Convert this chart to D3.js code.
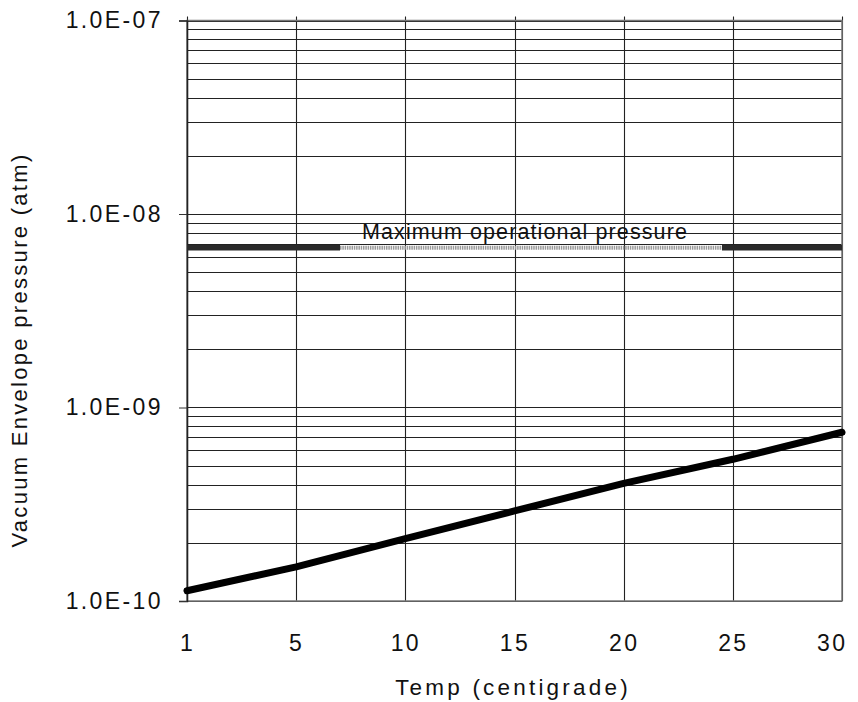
<!DOCTYPE html>
<html>
<head>
<meta charset="utf-8">
<script src="https://cdn.jsdelivr.net/npm/d3@7"></script>
<style>
  body { margin: 0; background: #fff; }
  text { font-family: Arial, "Liberation Sans", Helvetica, sans-serif; fill: #111; }
</style>
</head>
<body>
<svg id="chart" width="858" height="702"></svg>
<script>
// Envelope pressure against temperature, log scale
const temps = [1, 5, 10, 15, 20, 25, 30];
const pressure = [1.13e-10, 1.50e-10, 2.10e-10, 2.92e-10, 4.05e-10, 5.40e-10, 7.45e-10];
const maxPressure = 6.7e-9;
const maxLabel = "Maximum operational pressure";
const yDomain = [1e-10, 1e-7];
const yTickValues = [1e-10, 1e-9, 1e-8, 1e-7];
const yTickLabels = ["1.0E-10", "1.0E-09", "1.0E-08", "1.0E-07"];
const xTitle = "Temp (centigrade)";
const yTitle = "Vacuum Envelope pressure (atm)";

const W = 858, H = 702;
const plot = { left: 187, right: 842, top: 20.5, bottom: 601 };
const font = "Arial, 'Liberation Sans', Helvetica, sans-serif";

const svg = d3.select("#chart");

const x = d3.scalePoint().domain(temps).range([plot.left, plot.right]);
const y = d3.scaleLog().domain(yDomain).range([plot.bottom, plot.top]);

// horizontal grid: every 1..9 step inside each decade
svg.append("g")
  .selectAll("line")
  .data(y.ticks())
  .join("line")
  .attr("x1", plot.left).attr("x2", plot.right)
  .attr("y1", d => Math.round(y(d)) + 0.5).attr("y2", d => Math.round(y(d)) + 0.5)
  .attr("stroke", "#222").attr("stroke-width", 1.1);

// vertical grid at each temperature
svg.append("g")
  .selectAll("line")
  .data(temps)
  .join("line")
  .attr("x1", d => Math.round(x(d)) + 0.5).attr("x2", d => Math.round(x(d)) + 0.5)
  .attr("y1", plot.top - 4).attr("y2", plot.bottom)
  .attr("stroke", "#222").attr("stroke-width", 1.1);

// frame: top/right/bottom lighter, left solid
svg.append("rect")
  .attr("x", plot.left).attr("y", plot.top)
  .attr("width", plot.right - plot.left).attr("height", plot.bottom - plot.top)
  .attr("fill", "none").attr("stroke", "#777").attr("stroke-width", 1.5);

// y axis
const yAxis = svg.append("g")
  .attr("transform", `translate(${plot.left},0)`)
  .call(d3.axisLeft(y)
    .tickValues(yTickValues)
    .tickFormat((d, i) => yTickLabels[i])
    .tickSize(8)
    .tickPadding(16));
yAxis.select(".domain").attr("stroke", "#222").attr("stroke-width", 1.5);
yAxis.selectAll(".tick line").attr("stroke", "#333");
yAxis.selectAll(".tick text")
  .attr("font-size", 23).attr("letter-spacing", 2.4).attr("fill", "#111")
  .attr("font-family", font);

// x axis
const xAxis = svg.append("g")
  .attr("transform", `translate(0,${plot.bottom})`)
  .call(d3.axisBottom(x).tickSize(0).tickPadding(34));
xAxis.select(".domain").remove();
xAxis.selectAll(".tick text")
  .attr("font-size", 23).attr("letter-spacing", 2.4).attr("fill", "#111")
  .attr("font-family", font);
// the last label is pulled inside the page edge
xAxis.selectAll(".tick text")
  .filter(d => d === temps[temps.length - 1])
  .attr("text-anchor", "end").attr("x", 5);

// threshold line with its label
const yMax = y(maxPressure);
const label = svg.append("text")
  .attr("x", 525)
  .attr("y", yMax - 9)
  .attr("text-anchor", "middle")
  .attr("font-size", 21.5)
  .attr("letter-spacing", 1.1)
  .text(maxLabel);
const bb = label.node().getBBox();
const gapL = bb.x - 22, gapR = bb.x + bb.width + 34;

svg.append("line")
  .attr("x1", gapL).attr("x2", gapR)
  .attr("y1", yMax).attr("y2", yMax)
  .attr("stroke", "#9a9a9a").attr("stroke-width", 4)
  .attr("stroke-dasharray", "1.5,0.8");
svg.append("g")
  .selectAll("line")
  .data([[plot.left, gapL], [gapR, plot.right]])
  .join("line")
  .attr("x1", d => d[0]).attr("x2", d => d[1])
  .attr("y1", yMax).attr("y2", yMax)
  .attr("stroke", "#2a2a2a").attr("stroke-width", 5.5);
label.raise();

// pressure curve
svg.append("path")
  .datum(temps.map((t, i) => [t, pressure[i]]))
  .attr("fill", "none")
  .attr("stroke", "#000")
  .attr("stroke-width", 7)
  .attr("stroke-linecap", "round")
  .attr("stroke-linejoin", "round")
  .attr("d", d3.line().x(d => x(d[0])).y(d => y(d[1])));

// axis titles
svg.append("text")
  .attr("x", 513).attr("y", 695)
  .attr("text-anchor", "middle")
  .attr("font-size", 22.5).attr("letter-spacing", 3.2)
  .text(xTitle);

svg.append("text")
  .attr("transform", "translate(27,350) rotate(-90)")
  .attr("text-anchor", "middle")
  .attr("font-size", 22).attr("letter-spacing", 2.3)
  .text(yTitle);
</script>
</body>
</html>
